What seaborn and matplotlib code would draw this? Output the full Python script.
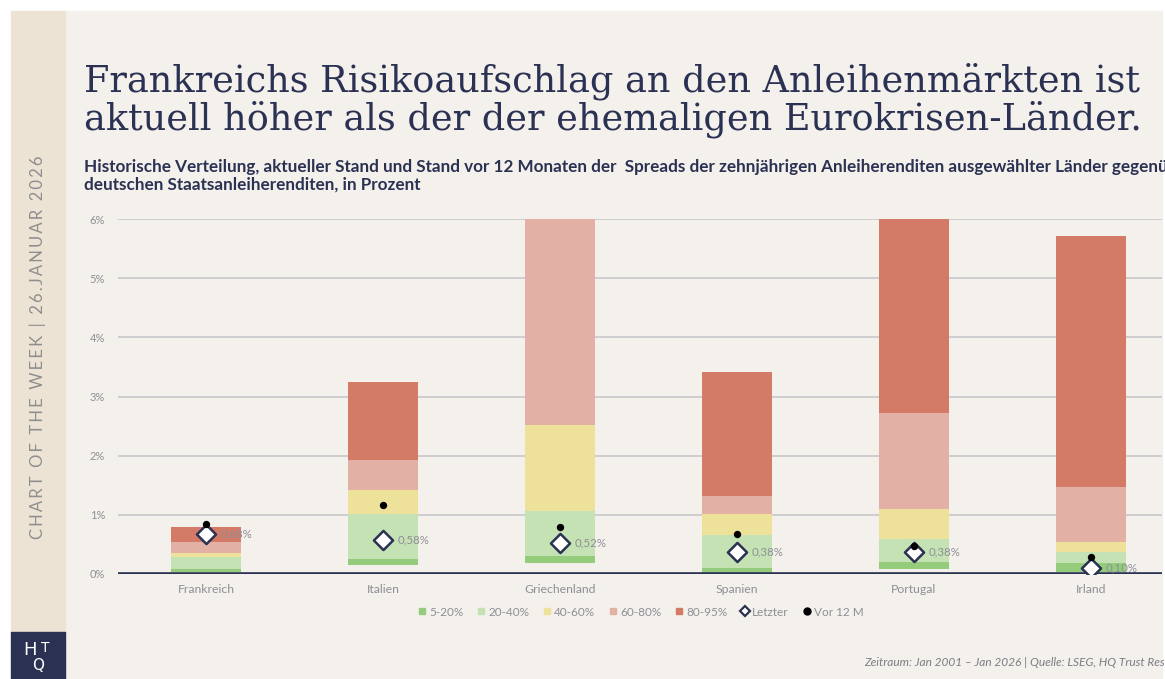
import matplotlib
matplotlib.use("Agg")
import matplotlib.pyplot as plt
from matplotlib.patches import Rectangle
from matplotlib.lines import Line2D
import seaborn as sns
import pandas as pd
import numpy as np

# ----------------------------
# Data (in %)
# ----------------------------
countries = ["Frankreich", "Italien", "Griechenland", "Spanien", "Portugal", "Irland"]
p05 = [0.03, 0.15, 0.19, 0.02, 0.08, 0.03]
p20 = [0.08, 0.25, 0.30, 0.10, 0.20, 0.19]
p40 = [0.29, 1.02, 1.06, 0.66, 0.59, 0.37]
p60 = [0.35, 1.42, 2.52, 1.01, 1.10, 0.54]
p80 = [0.54, 1.93, 7.20, 1.32, 2.72, 1.47]
p95 = [0.79, 3.24, 13.50, 3.41, 8.40, 5.71]
letzter = [0.68, 0.58, 0.52, 0.38, 0.38, 0.10]
vor_12m = [0.84, 1.17, 0.79, 0.68, 0.47, 0.29]

band_labels = ["5-20%", "20-40%", "40-60%", "60-80%", "80-95%"]
band_colors = ["#95cc7c", "#c5e2b5", "#eee29a", "#e3b0a6", "#d47b67"]
y_ticks = [0, 1, 2, 3, 4, 5, 6]

NAVY = "#2b3152"
GREY = "#8e8e96"
PANEL = "#f4f1ec"
SIDEBAR = "#ede3d4"

sns.set_theme(style="white")
plt.rcParams["font.family"] = ["Lato", "DejaVu Sans"]

W, H = 1165, 679
fig = plt.figure(figsize=(W / 100, H / 100), dpi=100, facecolor="white")

def fx(px):
    return px / W

def fy(py):
    return 1 - py / H

# background panels (behind the axes)
fig.patches.append(Rectangle((fx(65), 0), fx(1162 - 65), 1 - 11 / H,
                             transform=fig.transFigure, color=PANEL, zorder=-2))
fig.patches.append(Rectangle((fx(11), fy(632)), fx(54), (632 - 11) / H,
                             transform=fig.transFigure, color=SIDEBAR, zorder=-2))
fig.patches.append(Rectangle((fx(11), 0), fx(54), fy(632),
                             transform=fig.transFigure, color=NAVY, zorder=-2))

# sidebar text and logo
side = "\u2009".join("CHART OF THE WEEK | 26.JANUAR 2026")
fig.text(fx(38), fy(347), side, rotation=90, ha="center", va="center",
         fontsize=12, color="#8e8e8e", family=["Lato", "DejaVu Sans"])
fig.text(fx(30), fy(650), "H", ha="center", va="center", fontsize=13,
         color="white", family="DejaVu Sans")
fig.text(fx(45), fy(648), "T", ha="center", va="center", fontsize=10,
         color="white", family="DejaVu Sans")
fig.text(fx(38), fy(665), "Q", ha="center", va="center", fontsize=11,
         color="white", family="DejaVu Sans")

# title and subtitle
fig.text(fx(84), fy(91), "Frankreichs Risikoaufschlag an den Anleihenmärkten ist",
         fontsize=26.4, color=NAVY, family="DejaVu Serif", va="baseline")
fig.text(fx(84), fy(129), "aktuell höher als der der ehemaligen Eurokrisen-Länder.",
         fontsize=26.4, color=NAVY, family="DejaVu Serif", va="baseline")
fig.text(fx(84), fy(172),
         "Historische Verteilung, aktueller Stand und Stand vor 12 Monaten der  Spreads "
         "der zehnjährigen Anleiherenditen ausgewählter Länder gegenüber den",
         fontsize=12.3, fontweight="bold", color=NAVY, va="baseline")
fig.text(fx(84), fy(190), "deutschen Staatsanleiherenditen, in Prozent",
         fontsize=12.3, fontweight="bold", color=NAVY, va="baseline")

# main axes
ax = fig.add_axes([fx(117.5), fy(574), fx(1162 - 117.5), (574 - 219) / H])
ax.set_facecolor("none")
pos = np.arange(len(countries))
bounds = [p05, p20, p40, p60, p80, p95]
for i in range(5):
    lower = np.array(bounds[i])
    upper = np.array(bounds[i + 1])
    ax.bar(pos, upper - lower, bottom=lower, width=0.4,
           color=band_colors[i], linewidth=0, zorder=2)

df = pd.DataFrame({"pos": pos, "Land": countries,
                   "Letzter": letzter, "Vor12M": vor_12m})
sns.scatterplot(data=df, x="pos", y="Letzter", marker="D", s=95,
                color="white", edgecolor=NAVY, linewidth=1.8, zorder=4, ax=ax)
sns.scatterplot(data=df, x="pos", y="Vor12M", marker="o", s=28,
                color="black", edgecolor="black", linewidth=0, zorder=5, ax=ax)
for xp, v in zip(pos, letzter):
    ax.text(xp + 0.085, v, f"{v:.2f}%".replace(".", ","), va="center",
            ha="left", fontsize=8.3, color=GREY, zorder=6)

for t in y_ticks[1:]:
    ax.axhline(t, color="#cacacd", linewidth=1.3, zorder=1)
ax.axhline(0, color=NAVY, linewidth=2.6, zorder=3)

ax.set_xlim(-0.5, (1162 - 117.5) / 177 - 0.5)
ax.set_ylim(0, 6)
ax.set_yticks(y_ticks)
ax.set_yticklabels([f"{t}%" for t in y_ticks])
ax.set_xticks(pos)
ax.set_xticklabels(countries)
ax.tick_params(axis="y", length=0, pad=9, labelsize=8, labelcolor=GREY)
ax.tick_params(axis="x", length=0, pad=7, labelsize=8.8, labelcolor=GREY)
ax.set_xlabel("")
ax.set_ylabel("")
for s in ax.spines.values():
    s.set_visible(False)
ax.grid(False)

# legend
handles = [Line2D([], [], marker="s", ls="", color=c, markersize=5)
           for c in band_colors]
handles.append(Line2D([], [], marker="D", ls="", markerfacecolor="white",
                      markeredgecolor=NAVY, markeredgewidth=1.6, markersize=5))
handles.append(Line2D([], [], marker="o", ls="", color="black", markersize=5))
labels = band_labels + ["Letzter", "Vor 12 M"]
fig.legend(handles, labels, loc="center", bbox_to_anchor=(fx(640), fy(612)),
           ncol=7, frameon=False, fontsize=8.5, labelcolor=GREY,
           handletextpad=0.1, columnspacing=1.0, handlelength=1.0)

# source
fig.text(fx(864), fy(662),
         "Zeitraum: Jan 2001 – Jan 2026 | Quelle: LSEG, HQ Trust Research",
         fontsize=8.6, style="italic", color="#7c7c84", va="center")

fig.savefig("out.png", dpi=100, facecolor="white")
